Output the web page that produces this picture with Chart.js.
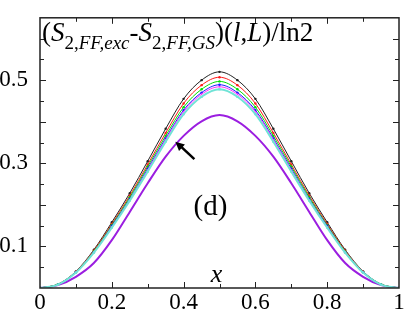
<!DOCTYPE html>
<html>
<head>
<meta charset="utf-8">
<script src="https://cdn.jsdelivr.net/npm/chart.js@4"></script>
<style>
  html, body { margin: 0; padding: 0; background: #fff; }
  #wrap { width: 407px; height: 315px; }
</style>
</head>
<body>
<div id="wrap"><canvas id="chartD" width="407" height="315"></canvas></div>
<script>
// x positions l/L
const xs = [0, 0.05, 0.1, 0.15, 0.2, 0.25, 0.3, 0.35, 0.4, 0.45, 0.5,
            0.55, 0.6, 0.65, 0.7, 0.75, 0.8, 0.85, 0.9, 0.95, 1];

// series values (curves are symmetric about x = 0.5)
const serieNegra   = [0, 0.009, 0.040, 0.092, 0.158, 0.228, 0.305, 0.383, 0.455, 0.500, 0.520, 0.500, 0.455, 0.383, 0.305, 0.228, 0.158, 0.092, 0.040, 0.009, 0];
const serieRoja    = [0, 0.009, 0.039, 0.090, 0.154, 0.222, 0.297, 0.373, 0.444, 0.488, 0.507, 0.488, 0.444, 0.373, 0.297, 0.222, 0.154, 0.090, 0.039, 0.009, 0];
const serieVerde   = [0, 0.009, 0.038, 0.088, 0.151, 0.218, 0.292, 0.366, 0.435, 0.478, 0.497, 0.478, 0.435, 0.366, 0.292, 0.218, 0.151, 0.088, 0.038, 0.009, 0];
const serieAzul    = [0, 0.008, 0.038, 0.086, 0.149, 0.214, 0.287, 0.360, 0.428, 0.470, 0.489, 0.470, 0.428, 0.360, 0.287, 0.214, 0.149, 0.086, 0.038, 0.008, 0];
const serieMagenta = [0, 0.008, 0.037, 0.086, 0.147, 0.212, 0.284, 0.357, 0.424, 0.466, 0.484, 0.466, 0.424, 0.357, 0.284, 0.212, 0.147, 0.086, 0.037, 0.008, 0];
const serieCian    = [0, 0.008, 0.037, 0.085, 0.145, 0.210, 0.280, 0.352, 0.418, 0.460, 0.478, 0.460, 0.418, 0.352, 0.280, 0.210, 0.145, 0.085, 0.037, 0.008, 0];
const seriePurpura = [0, 0.007, 0.027, 0.060, 0.115, 0.183, 0.252, 0.316, 0.366, 0.401, 0.416, 0.401, 0.366, 0.316, 0.252, 0.183, 0.115, 0.060, 0.027, 0.007, 0];

// tick labels
const etiquetasX = [0, 0.2, 0.4, 0.6, 0.8, 1];
const etiquetasY = [0.1, 0.3, 0.5];

const fuente = '"Liberation Serif", "DejaVu Serif", serif';

function puntos(valores) {
    return valores.map((v, i) => ({ x: xs[i], y: v }));
}

function serie(valores, color, ancho, radio, estilo) {
    return {
        data: puntos(valores),
        borderColor: color,
        backgroundColor: color,
        borderWidth: ancho,
        pointRadius: radio,
        pointStyle: estilo || 'circle',
        pointBorderWidth: 0,
        tension: 0.4,
        cubicInterpolationMode: 'monotone'
    };
}

// frame, inward ticks, texts and arrow
const decoracion = {
    id: 'decoracion',
    afterDraw(chart) {
        const ctx = chart.ctx;
        const a = chart.chartArea;
        const sx = chart.scales.x, sy = chart.scales.y;
        ctx.save();
        ctx.strokeStyle = '#222';
        ctx.lineWidth = 1.5;
        ctx.strokeRect(a.left, a.top, a.right - a.left, a.bottom - a.top);

        ctx.lineWidth = 1;
        for (let i = 1; i < 10; i++) {
            const px = Math.round(sx.getPixelForValue(i / 10)) + 0.5;
            const len = (i % 2 === 0) ? 6 : 4;
            ctx.beginPath();
            ctx.moveTo(px, a.bottom); ctx.lineTo(px, a.bottom - len);
            ctx.moveTo(px, a.top); ctx.lineTo(px, a.top + len);
            ctx.stroke();
        }
        for (let j = 1; j < 13; j++) {
            const py = Math.round(sy.getPixelForValue(j / 20)) + 0.5;
            const len = (j % 2 === 0) ? 6 : 4;
            ctx.beginPath();
            ctx.moveTo(a.left, py); ctx.lineTo(a.left + len, py);
            ctx.moveTo(a.right, py); ctx.lineTo(a.right - len, py);
            ctx.stroke();
        }

        // title inside the frame
        ctx.fillStyle = '#000';
        ctx.textBaseline = 'alphabetic';
        ctx.textAlign = 'left';
        const trozos = [
            ['(', 'normal 27px', 0],
            ['S', 'italic 27px', 0],
            ['2,', 'normal 19px', 8],
            ['FF,exc', 'italic 19px', 8],
            ['-', 'normal 27px', 0],
            ['S', 'italic 27px', 0],
            ['2,', 'normal 19px', 8],
            ['FF,GS', 'italic 19px', 8],
            [')(', 'normal 27px', 0],
            ['l', 'italic 27px', 0],
            [',', 'normal 27px', 0],
            ['L', 'italic 27px', 0],
            [')/ln2', 'normal 27px', 0]
        ];
        let cx = a.left + 2;
        const base = 41;
        trozos.forEach(t => {
            ctx.font = t[1] + ' ' + fuente;
            ctx.fillText(t[0], cx, base + t[2]);
            cx += ctx.measureText(t[0]).width;
        });

        ctx.font = 'normal 29px ' + fuente;
        ctx.textAlign = 'center';
        ctx.fillText('(d)', sx.getPixelForValue(0.475), sy.getPixelForValue(0.175));
        ctx.font = 'italic 26px ' + fuente;
        ctx.fillText('x', sx.getPixelForValue(0.492), a.bottom - 6);

        // arrow pointing at the purple curve
        const x0 = sx.getPixelForValue(0.43), y0 = sy.getPixelForValue(0.31);
        const x1 = sx.getPixelForValue(0.377), y1 = sy.getPixelForValue(0.352);
        ctx.strokeStyle = '#000';
        ctx.lineWidth = 2.5;
        ctx.beginPath();
        ctx.moveTo(x0, y0); ctx.lineTo(x1 + 3, y1 + 2.4);
        ctx.stroke();
        const ang = Math.atan2(y1 - y0, x1 - x0);
        ctx.beginPath();
        ctx.moveTo(x1, y1);
        ctx.lineTo(x1 - 10 * Math.cos(ang - 0.45), y1 - 10 * Math.sin(ang - 0.45));
        ctx.lineTo(x1 - 10 * Math.cos(ang + 0.45), y1 - 10 * Math.sin(ang + 0.45));
        ctx.closePath();
        ctx.fillStyle = '#000';
        ctx.fill();
        ctx.restore();
    }
};

new Chart(document.getElementById('chartD'), {
    type: 'line',
    data: {
        datasets: [
            serie(serieCian, '#6fe3d6', 2, 1.6, 'rect'),
            serie(serieMagenta, '#ff33ff', 1, 1, 'rect'),
            serie(serieAzul, '#1a1aff', 1, 1.2),
            serie(serieVerde, '#00e000', 1, 1.2),
            serie(serieRoja, '#ff1a1a', 1, 1.2),
            serie(serieNegra, '#222222', 1, 1.2),
            serie(seriePurpura, '#9b1ee0', 2, 0)
        ]
    },
    options: {
        responsive: false,
        animation: false,
        events: [],
        layout: { padding: { top: 12, right: 8, left: 0, bottom: 0 } },
        plugins: { legend: { display: false }, tooltip: { enabled: false } },
        scales: {
            x: {
                type: 'linear', min: 0, max: 1,
                grid: { display: false },
                border: { display: false },
                afterFit: s => { s.height = 27; },
                ticks: {
                    stepSize: 0.2, padding: -5, maxRotation: 0, color: '#000',
                    font: { family: fuente, size: 23, lineHeight: 1 },
                    callback: v => etiquetasX.find(e => Math.abs(e - v) < 1e-6) !== undefined ? String(Math.round(v * 10) / 10) : ''
                }
            },
            y: {
                min: 0, max: 0.65,
                grid: { display: false },
                border: { display: false },
                afterFit: s => { s.width = 40; },
                ticks: {
                    stepSize: 0.1, padding: 4, color: '#000',
                    font: { family: fuente, size: 23 },
                    callback: v => etiquetasY.find(e => Math.abs(e - v) < 1e-6) !== undefined ? v.toFixed(1) : ''
                }
            }
        }
    },
    plugins: [decoracion]
});
</script>
</body>
</html>
